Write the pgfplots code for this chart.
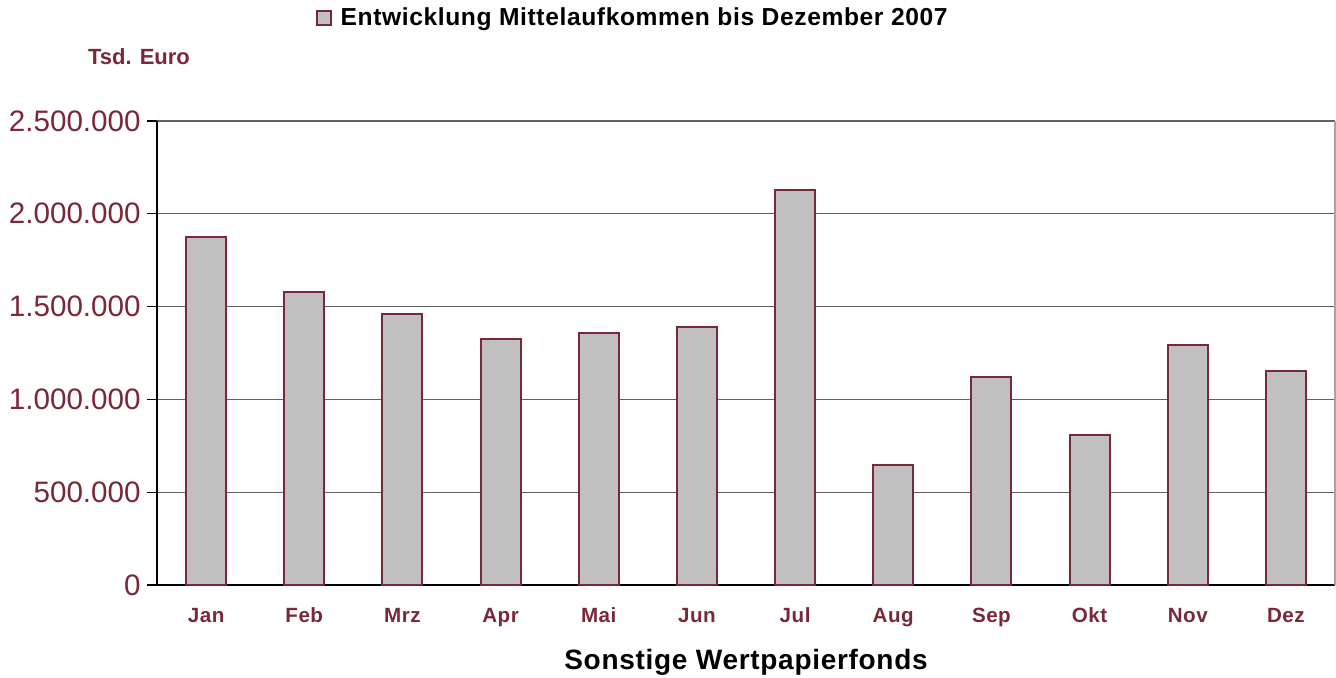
\documentclass[border=0pt]{standalone}
\usepackage{pgfplots}
\pgfplotsset{compat=1.18}
\usepackage{fontspec}
\setmainfont{Liberation Sans}
\newfontfamily\spaced[LetterSpace=2.5]{Liberation Sans}
\definecolor{maroon}{HTML}{7A2838}
\definecolor{barfill}{HTML}{C0C0C0}
\begin{document}
\begin{tikzpicture}
\useasboundingbox (-78.5pt,-46.5pt) rectangle (589.5pt,292.5pt);
\begin{axis}[
  scale only axis,
  width=589pt, height=232pt,
  xmin=-0.5, xmax=11.5,
  ymin=0, ymax=2500000,
  scaled y ticks=false,
  axis x line*=bottom, axis y line*=left,
  axis line style={black, line width=0.6pt, -},
  ytick={0,500000,1000000,1500000,2000000,2500000},
  yticklabels={0,500.000,1.000.000,1.500.000,2.000.000,2.500.000},
  yticklabel style={font=\fontsize{14.8}{16}\selectfont, text=maroon, anchor=east, inner sep=0pt, xshift=-3pt},
  xtick={0,...,11},
  xticklabels={Jan,Feb,Mrz,Apr,Mai,Jun,Jul,Aug,Sep,Okt,Nov,Dez},
  xticklabel style={font=\spaced\bfseries\fontsize{10.3}{12}\selectfont, text=maroon, anchor=center, text height=1.6ex, text depth=0.4ex, yshift=-10.5pt},
  x tick style={draw=none},
  extra x ticks={-0.5,0.5,1.5,2.5,3.5,4.5,5.5,6.5,7.5,8.5,9.5,10.5,11.5},
  extra x tick labels={},
  extra x tick style={tick style={draw=black, line width=0.6pt}, major tick length=4pt, tick align=outside, grid=none},
  y tick style={draw=black, line width=0.6pt},
  major tick length=5pt,
  tick align=outside,
  ymajorgrids,
  grid style={black!62, line width=0.6pt},
  clip=false,
  legend style={at={(rel axis cs:0.135,1.222)}, anchor=west, draw=none, fill=none, inner sep=0pt,
    font=\spaced\bfseries\fontsize{12.3}{14}\selectfont, legend cell align=left,
    /tikz/every even column/.append style={column sep=2pt}},
  legend image code/.code={\draw[#1, draw=maroon, fill=barfill, line width=0.6pt] (0pt,-3.5pt) rectangle (7pt,3.5pt);},
]
\addplot[ybar, bar width=20pt, fill=barfill, draw=maroon, line width=1pt] coordinates {
(0,1875000) (1,1579000) (2,1460000) (3,1325000) (4,1358000) (5,1390000)
(6,2128000) (7,647000) (8,1121000) (9,808000) (10,1293000) (11,1153000)
};
\addlegendentry{\hspace{2.5pt}Entwicklung Mittelaufkommen bis Dezember 2007}
\draw[black!35, line width=0.6pt] (rel axis cs:1,0) -- (rel axis cs:1,1);
\node[text=maroon, font=\bfseries\fontsize{11}{13}\selectfont] at (rel axis cs:-0.0153,1.138) {Tsd. Euro};
\node[font=\spaced\bfseries\fontsize{14}{16}\selectfont] at (rel axis cs:0.5,-0.166) {Sonstige Wertpapierfonds};
\end{axis}
\end{tikzpicture}
\end{document}
